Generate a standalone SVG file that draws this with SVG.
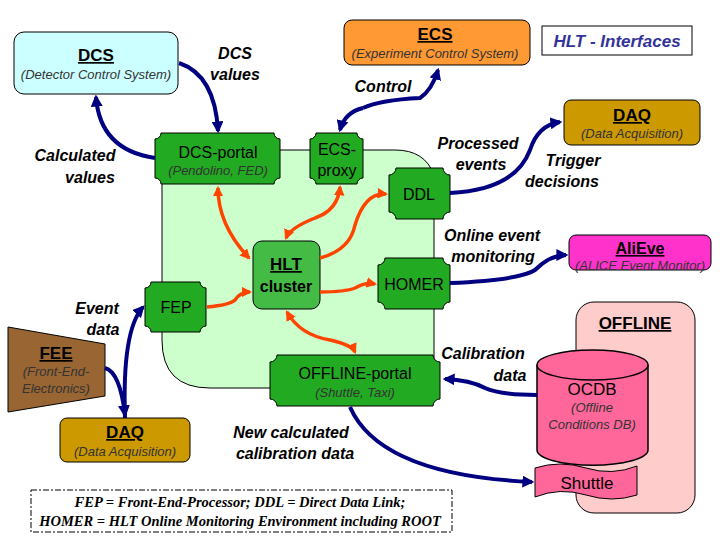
<svg xmlns="http://www.w3.org/2000/svg" width="720" height="540" viewBox="0 0 720 540">
<defs>
<marker id="an" viewBox="0 0 10 10" refX="8" refY="5" markerWidth="3" markerHeight="3" orient="auto-start-reverse"><path d="M0,0L10,5L0,10z" fill="#000080"/></marker>
<marker id="ao" viewBox="0 0 10 10" refX="8" refY="5" markerWidth="3" markerHeight="3" orient="auto-start-reverse"><path d="M0,0L10,5L0,10z" fill="#ff4400"/></marker>
</defs>
<style>
text{font-family:"Liberation Sans",Arial,sans-serif;text-anchor:middle}
.t{font-size:17px;font-weight:bold;text-decoration:underline}
.s{font-size:13px;font-style:italic;fill:#333}
.n{font-size:16px}
.l{font-size:16px;font-weight:bold;font-style:italic}
.g{fill:#22aa22;stroke:#000;stroke-width:1}
.c{fill:none;stroke:#000080;stroke-width:4;marker-end:url(#an)}
.o{fill:none;stroke:#ff4400;stroke-width:3.5;marker-end:url(#ao);marker-start:url(#ao)}
.o1{fill:none;stroke:#ff4400;stroke-width:3.5;marker-end:url(#ao)}
.lg{font-family:"Liberation Serif",serif;font-size:14.5px;font-style:italic;font-weight:bold}
</style>
<path id="region" d="M162,150 H395 Q425,150 434,175 V388 H210 Q162,388 162,340 Z" fill="#ccffcc" stroke="#000"/>
<g id="dcs"><rect x="14" y="32" width="164" height="62" rx="10" fill="#ccffff" stroke="#000"/><text x="96" y="61" class="t">DCS</text><text x="96" y="79" class="s">(Detector Control System)</text></g>
<g id="ecs"><rect x="344" y="20" width="186" height="45" rx="8" fill="#ff9933" stroke="#000"/><text x="435" y="40" class="t">ECS</text><text x="435" y="58" class="s">(Experiment Control System)</text></g>
<g id="title"><rect x="542" y="26" width="150" height="29" fill="#fff" stroke="#000"/><text x="617" y="47" style="font-size:17px;font-weight:bold;font-style:italic;fill:#333399">HLT - Interfaces</text></g>
<g id="daq1"><rect x="564" y="100" width="136" height="45" rx="7" fill="#cc9900" stroke="#000"/><text x="632" y="121" class="t">DAQ</text><text x="632" y="138" class="s">(Data Acquisition)</text></g>
<g id="alieve"><rect x="569" y="235" width="142" height="35" rx="7" fill="#ff33cc" stroke="#000"/><text x="640" y="254" class="t" style="font-size:16px">AliEve</text><text x="640" y="270" class="s">(ALICE Event Monitor)</text></g>
<g id="offline"><rect x="576" y="302" width="119" height="211" rx="18" fill="#ffcccc" stroke="#000"/><text x="635" y="329" class="t">OFFLINE</text></g>
<g id="ocdb"><path d="M537,365 V450 A55,15 0 0 0 648,450 V365" fill="#ff6699" stroke="#000" stroke-width="1.5"/><ellipse cx="592.5" cy="365" rx="55.5" ry="15" fill="#ff6699" stroke="#000" stroke-width="1.5"/><text x="592" y="395" class="n" style="font-size:17px">OCDB</text><text x="592" y="412" class="s">(Offline</text><text x="592" y="429" class="s">Conditions DB)</text></g>
<g id="shuttle"><path d="M535,468 Q560,460 586,468 T637,466 V495 Q612,503 586,495 T535,497 Z" fill="#ff6699" stroke="#000"/><text x="587" y="489" class="n" style="font-size:17px">Shuttle</text></g>
<g id="fee"><path d="M8,327 L105,344 V396 L8,412 Z" fill="#996633" stroke="#000"/><text x="56" y="359" class="t">FEE</text><text x="56" y="376" class="s">(Front-End-</text><text x="56" y="393" class="s">Electronics)</text></g>
<g id="daq2"><rect x="60" y="418" width="130" height="44" rx="7" fill="#cc9900" stroke="#000"/><text x="125" y="438" class="t">DAQ</text><text x="125" y="456" class="s">(Data Acquisition)</text></g>
<g id="dcsportal"><path class="g" d="M161,133 H274 a6,6 0 0 0 6,6 V178 a6,6 0 0 0 -6,6 H161 a6,6 0 0 0 -6,-6 V139 a6,6 0 0 0 6,-6 Z"/><text x="218" y="158" class="n">DCS-portal</text><text x="218" y="175" class="s">(Pendolino, FED)</text></g>
<g id="ecsproxy"><path class="g" d="M316,133 H357 a6,6 0 0 0 6,6 V178 a6,6 0 0 0 -6,6 H316 a6,6 0 0 0 -6,-6 V139 a6,6 0 0 0 6,-6 Z"/><text x="337" y="155" class="n">ECS-</text><text x="337" y="176" class="n">proxy</text></g>
<g id="ddl"><path class="g" d="M396,168 H443 a7,7 0 0 0 7,7 V212 a7,7 0 0 0 -7,7 H396 a7,7 0 0 0 -7,-7 V175 a7,7 0 0 0 7,-7 Z"/><text x="419" y="200" class="n">DDL</text></g>
<g id="hlt"><rect x="253" y="241" width="67" height="68" rx="9" fill="#44bb44" stroke="#000"/><text x="286" y="270" class="t">HLT</text><text x="286" y="292" class="n" style="font-weight:bold">cluster</text></g>
<g id="fep"><path class="g" d="M151,282 H200 a6,6 0 0 0 6,6 V326 a6,6 0 0 0 -6,6 H151 a6,6 0 0 0 -6,-6 V288 a6,6 0 0 0 6,-6 Z"/><text x="176" y="313" class="n">FEP</text></g>
<g id="homer"><path class="g" d="M385,258 H443 a7,7 0 0 0 7,7 V302 a7,7 0 0 0 -7,7 H385 a7,7 0 0 0 -7,-7 V265 a7,7 0 0 0 7,-7 Z"/><text x="414" y="290" class="n">HOMER</text></g>
<g id="offportal"><path class="g" d="M277,355 H433 a7,7 0 0 0 7,7 V399 a7,7 0 0 0 -7,7 H277 a7,7 0 0 0 -7,-7 V362 a7,7 0 0 0 7,-7 Z"/><text x="355" y="379" class="n">OFFLINE-portal</text><text x="355" y="397" class="s">(Shuttle, Taxi)</text></g>
<g id="legend"><rect x="31" y="490" width="421" height="42" fill="#fff" stroke="#000" stroke-dasharray="6,2,2,2"/><text x="240" y="507" class="lg">FEP = Front-End-Processor; DDL = Direct Data Link;</text><text x="240" y="526" class="lg">HOMER = HLT Online Monitoring Environment including ROOT</text></g>
<g id="connectors">
<path class="c" d="M179,63 Q215,75 218,131"/>
<path class="c" d="M155,158 Q100,150 96,97"/>
<path class="c" d="M363,108 Q380,100 420,98 Q432,90 438,70"/>
<path class="c" d="M363,108 Q345,112 340,130"/>
<path class="c" d="M450,193 Q515,190 530,150 Q538,125 560,122"/>
<path class="c" d="M450,283 Q520,280 535,270 Q550,255 566,255"/>
<path class="c" d="M537,395 Q500,395 485,388 Q470,380 445,379"/>
<path class="c" d="M350,407 Q380,475 532,482"/>
<path class="c" d="M105,368 Q120,372 125,415"/>
<path class="c" d="M125,418 Q122,330 143,307"/>
<path class="o" d="M218,188 Q218,225 249,258"/>
<path class="o" d="M340,187 Q338,210 315,218 Q290,228 286,238"/>
<path class="o1" d="M320,258 Q350,250 355,225 Q365,192 386,194"/>
<path class="o1" d="M320,292 Q345,292 355,288 Q365,282 375,284"/>
<path class="o1" d="M207,307 Q230,305 235,300 Q240,292 250,292"/>
<path class="o" d="M287,312 Q300,335 330,340 Q352,345 355,352"/>
</g>
<g id="labels">
<text x="235" y="59" class="l">DCS</text><text x="235" y="80" class="l">values</text>
<text x="75" y="161" class="l">Calculated</text><text x="90" y="183" class="l">values</text>
<text x="383" y="92" class="l">Control</text>
<text x="478" y="149" class="l">Processed</text><text x="481" y="170" class="l">events</text>
<text x="573" y="166" class="l">Trigger</text><text x="562" y="187" class="l">decisions</text>
<text x="492" y="241" class="l">Online event</text><text x="493" y="262" class="l">monitoring</text>
<text x="97" y="314" class="l">Event</text><text x="103" y="335" class="l">data</text>
<text x="483" y="359" class="l">Calibration</text><text x="510" y="381" class="l">data</text>
<text x="291" y="438" class="l">New calculated</text><text x="295" y="459" class="l">calibration data</text>
</g>
</svg>
